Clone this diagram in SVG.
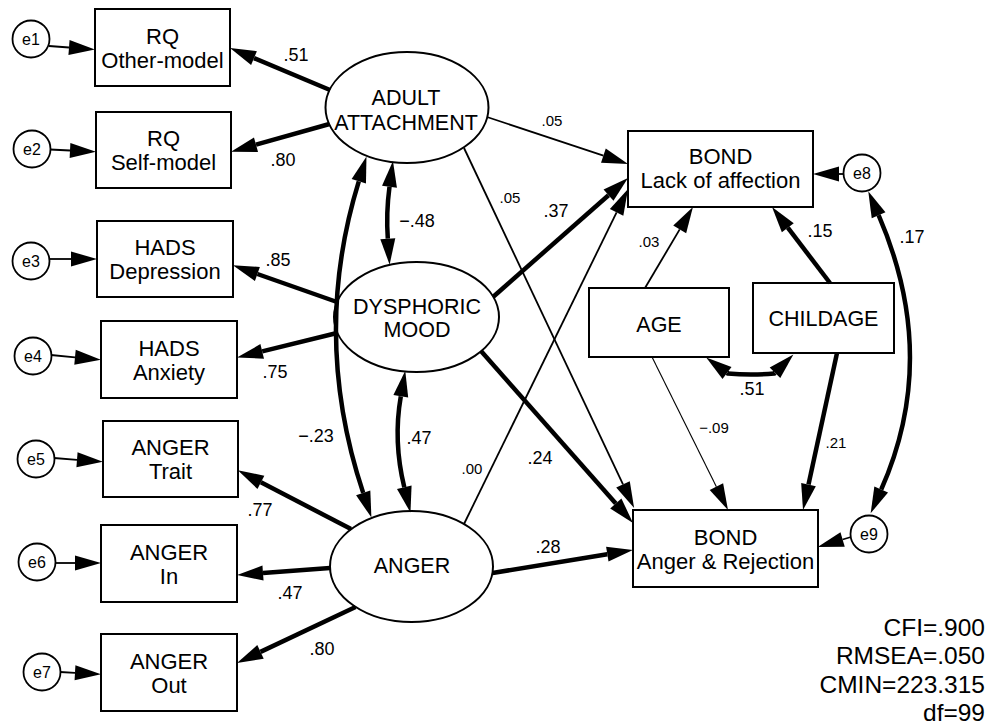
<svg xmlns="http://www.w3.org/2000/svg" width="1000" height="726" viewBox="0 0 1000 726">
<style>
.box{fill:#fff;stroke:#000;stroke-width:2}
.lat{fill:#fff;stroke:#000;stroke-width:2}
.err{fill:#fff;stroke:#000;stroke-width:1.8}
text{font-family:"Liberation Sans",Arial,sans-serif;fill:#000}
.t{text-anchor:middle}
.nt{font-size:22px}
.lt{font-size:21.5px}
.et{font-size:16px}
.lb{font-size:18px}
.ls{font-size:15px}
.fit{font-size:24.5px;text-anchor:end}
#connectors line,#connectors path{fill:none;stroke:#000;marker-end:url(#ah)}
#connectors .dbl{marker-start:url(#ah)}
.w1{stroke-width:4.5}
.w2{stroke-width:1.8}
.w3{stroke-width:1.1}
</style>
<defs>
<marker id="ah" markerUnits="userSpaceOnUse" markerWidth="26" markerHeight="15" refX="0" refY="7.5" orient="auto-start-reverse" overflow="visible">
<path d="M0,0 L26,7.5 L0,15 z" fill="#000"/>
</marker>
</defs>
<rect width="1000" height="726" fill="#fff"/>

<g id="rq_other"><rect class="box" x="95" y="9" width="135" height="77"/><text class="t nt" x="162.5" y="43.5">RQ</text><text class="t nt" x="162.5" y="67.5">Other-model</text></g>
<g id="rq_self"><rect class="box" x="96" y="112" width="135" height="76"/><text class="t nt" x="163.5" y="146">RQ</text><text class="t nt" x="163.5" y="170">Self-model</text></g>
<g id="hads_dep"><rect class="box" x="97" y="221" width="136" height="76"/><text class="t nt" x="165" y="255">HADS</text><text class="t nt" x="165" y="279">Depression</text></g>
<g id="hads_anx"><rect class="box" x="101" y="321" width="136" height="77"/><text class="t nt" x="169" y="355.5">HADS</text><text class="t nt" x="169" y="379.5">Anxiety</text></g>
<g id="anger_trait"><rect class="box" x="103" y="421" width="135" height="76"/><text class="t nt" x="170.5" y="455">ANGER</text><text class="t nt" x="170.5" y="479">Trait</text></g>
<g id="anger_in"><rect class="box" x="101" y="525" width="136" height="77"/><text class="t nt" x="169" y="559.5">ANGER</text><text class="t nt" x="169" y="583.5">In</text></g>
<g id="anger_out"><rect class="box" x="101" y="634" width="136" height="77"/><text class="t nt" x="169" y="668.5">ANGER</text><text class="t nt" x="169" y="692.5">Out</text></g>

<g id="e1"><circle class="err" cx="31" cy="39" r="18.5"/><text class="t et" x="31" y="44.5">e1</text></g>
<g id="e2"><circle class="err" cx="32" cy="149" r="18.5"/><text class="t et" x="32" y="154.5">e2</text></g>
<g id="e3"><circle class="err" cx="31" cy="261" r="18.5"/><text class="t et" x="31" y="266.5">e3</text></g>
<g id="e4"><circle class="err" cx="33" cy="356" r="18.5"/><text class="t et" x="33" y="361.5">e4</text></g>
<g id="e5"><circle class="err" cx="36" cy="459" r="18.5"/><text class="t et" x="36" y="464.5">e5</text></g>
<g id="e6"><circle class="err" cx="37" cy="562" r="18.5"/><text class="t et" x="37" y="567.5">e6</text></g>
<g id="e7"><circle class="err" cx="42" cy="672" r="18.5"/><text class="t et" x="42" y="677.5">e7</text></g>

<g id="adult_attachment"><ellipse class="lat" cx="407" cy="107.5" rx="81.5" ry="55.5"/><text class="t lt" x="406" y="105">ADULT</text><text class="t lt" x="406" y="130">ATTACHMENT</text></g>
<g id="dysphoric_mood"><ellipse class="lat" cx="416.5" cy="317" rx="82.5" ry="55"/><text class="t lt" x="417" y="314">DYSPHORIC</text><text class="t lt" x="417" y="337">MOOD</text></g>
<g id="anger"><ellipse class="lat" cx="411.5" cy="566.5" rx="81.5" ry="55.5"/><text class="t lt" x="412" y="573">ANGER</text></g>

<g id="bond_lack"><rect class="box" x="628" y="131" width="185" height="76"/><text class="t nt" x="720.5" y="164">BOND</text><text class="t nt" x="720.5" y="188">Lack of affection</text></g>
<g id="age"><rect class="box" x="589" y="288" width="140" height="69"/><text class="t lt" x="659" y="332">AGE</text></g>
<g id="childage"><rect class="box" x="753" y="283" width="141" height="70"/><text class="t lt" x="823.5" y="326">CHILDAGE</text></g>
<g id="bond_anger"><rect class="box" x="633" y="510" width="185" height="77"/><text class="t nt" x="725.5" y="545">BOND</text><text class="t nt" x="725.5" y="569">Anger &amp; Rejection</text></g>
<g id="e8"><circle class="err" cx="862" cy="173" r="18.5"/><text class="t et" x="862" y="178.5">e8</text></g>
<g id="e9"><circle class="err" cx="869" cy="534" r="18.5"/><text class="t et" x="869" y="539.5">e9</text></g>

<g id="connectors">
<line class="w2" x1="49" y1="46" x2="69" y2="47.5"/>
<line class="w2" x1="50" y1="149.5" x2="70" y2="150.5"/>
<line class="w2" x1="49" y1="259" x2="71" y2="259"/>
<line class="w2" x1="51" y1="355" x2="75" y2="357.3"/>
<line class="w2" x1="54" y1="458" x2="77" y2="459.8"/>
<line class="w2" x1="55" y1="563" x2="75" y2="563"/>
<line class="w2" x1="60" y1="672" x2="75" y2="672.8"/>

<line class="w1" x1="330" y1="90" x2="254" y2="58.1"/>
<line class="w1" x1="329.5" y1="124" x2="256" y2="144.7"/>
<line class="w1" x1="337" y1="302" x2="257.4" y2="274"/>
<line class="w1" x1="337" y1="333" x2="262.2" y2="351.4"/>
<line class="w1" x1="351" y1="529" x2="260.9" y2="482.3"/>
<line class="w1" x1="330" y1="568" x2="263" y2="573"/>
<line class="w1" x1="355.5" y1="607" x2="260.5" y2="651.9"/>

<line class="w2" x1="487" y1="117" x2="603.4" y2="155.7"/>
<line class="w2" x1="464" y1="148" x2="623" y2="484.4"/>
<line class="w1" x1="493" y1="297" x2="608.5" y2="195.2"/>
<line class="w2" x1="464" y1="524" x2="616.6" y2="212.4"/>
<line class="w1" x1="481" y1="351" x2="615.8" y2="503.5"/>
<line class="w1" x1="492.5" y1="573" x2="607.3" y2="554.2"/>
<line class="w2" x1="645" y1="288" x2="679.7" y2="229.4"/>
<line class="w1" x1="830" y1="283" x2="787.8" y2="227.7"/>
<line class="w3" x1="652" y1="357" x2="716.4" y2="486.7"/>
<line class="w1" x1="837" y1="353" x2="808.5" y2="484.6"/>
<line class="w2" x1="843.5" y1="174" x2="839" y2="174"/>
<line class="w2" x1="851" y1="537" x2="842.6" y2="539.5"/>

<path class="w1 dbl" d="M358.8,181.3 Q311,336 363.2,492.9"/>
<path class="w1 dbl" d="M389.5,186.8 Q386,213 387.8,238.7"/>
<path class="w1 dbl" d="M400.8,396.3 Q393,441 404.3,487.3"/>
<path class="w1 dbl" d="M727,373 L727.8,373.6 Q751,375.5 774.2,373.6 L775,372.8"/>
<path class="w1 dbl" d="M878.6,215.2 Q940,357 881.2,489.5"/>
</g>

<g id="labels">
<text class="t lb" x="296" y="61">.51</text>
<text class="t lb" x="283" y="166">.80</text>
<text class="t lb" x="417" y="227">−.48</text>
<text class="t lb" x="278" y="266">.85</text>
<text class="t lb" x="275" y="378">.75</text>
<text class="t lb" x="316" y="442">−.23</text>
<text class="t lb" x="419" y="444">.47</text>
<text class="t ls" x="472" y="474">.00</text>
<text class="t lb" x="260" y="516">.77</text>
<text class="t lb" x="290" y="599">.47</text>
<text class="t lb" x="322" y="655">.80</text>
<text class="t ls" x="552" y="126">.05</text>
<text class="t ls" x="510" y="203">.05</text>
<text class="t lb" x="556" y="217">.37</text>
<text class="t lb" x="540" y="464">.24</text>
<text class="t lb" x="548" y="553">.28</text>
<text class="t ls" x="649" y="247">.03</text>
<text class="t lb" x="820" y="237">.15</text>
<text class="t lb" x="912" y="243">.17</text>
<text class="t lb" x="752" y="395">.51</text>
<text class="t ls" x="714" y="433">−.09</text>
<text class="t ls" x="836" y="448">.21</text>
</g>

<g id="fit">
<text class="fit" x="985" y="636">CFI=.900</text>
<text class="fit" x="985" y="664">RMSEA=.050</text>
<text class="fit" x="985" y="693">CMIN=223.315</text>
<text class="fit" x="985" y="721">df=99</text>
</g>
</svg>
